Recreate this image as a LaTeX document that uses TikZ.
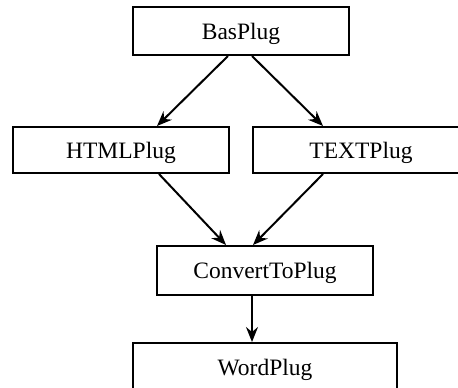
\documentclass[tikz,border=0pt]{standalone}
\usepackage{fontspec}
\setmainfont{Liberation Serif}
\usetikzlibrary{arrows.meta}
\begin{document}
\begin{tikzpicture}[x=1pt,y=-1pt,
  plugbox/.style={draw=black, line width=2pt, fill=white, minimum width=216pt,
    minimum height=47pt, inner sep=0pt, text height=18pt, text depth=2pt,
    font=\fontsize{23.5}{26}\selectfont, anchor=center},
  conn/.style={line width=2pt, -{Stealth[length=15pt,width=12pt,inset=5pt]}}]
\useasboundingbox (0,0) rectangle (458,388);
\clip (0,0) rectangle (458,388);
\node[plugbox, minimum height=48pt] (bas) at (241,31) {BasPlug};
\node[plugbox, minimum height=46pt] (html) at (121,150) {HTMLPlug};
\node[plugbox, minimum height=46pt] (text) at (361,150) {TEXTPlug};
\node[plugbox, minimum height=49pt] (conv) at (265,270.5) {ConvertToPlug};
\node[plugbox, minimum width=264pt, minimum height=48pt] (word) at (265,367) {WordPlug};
\draw[conn] ([xshift=-13pt]bas.south) -- ([xshift=36pt]html.north);
\draw[conn] ([xshift=11pt]bas.south) -- ([xshift=-38pt]text.north);
\draw[conn] ([xshift=38pt]html.south) -- ([xshift=-39pt]conv.north);
\draw[conn] ([xshift=-38pt]text.south) -- ([xshift=-12pt]conv.north);
\draw[conn] ([xshift=-13pt]conv.south) -- ([xshift=-13pt]word.north);
\end{tikzpicture}
\end{document}
